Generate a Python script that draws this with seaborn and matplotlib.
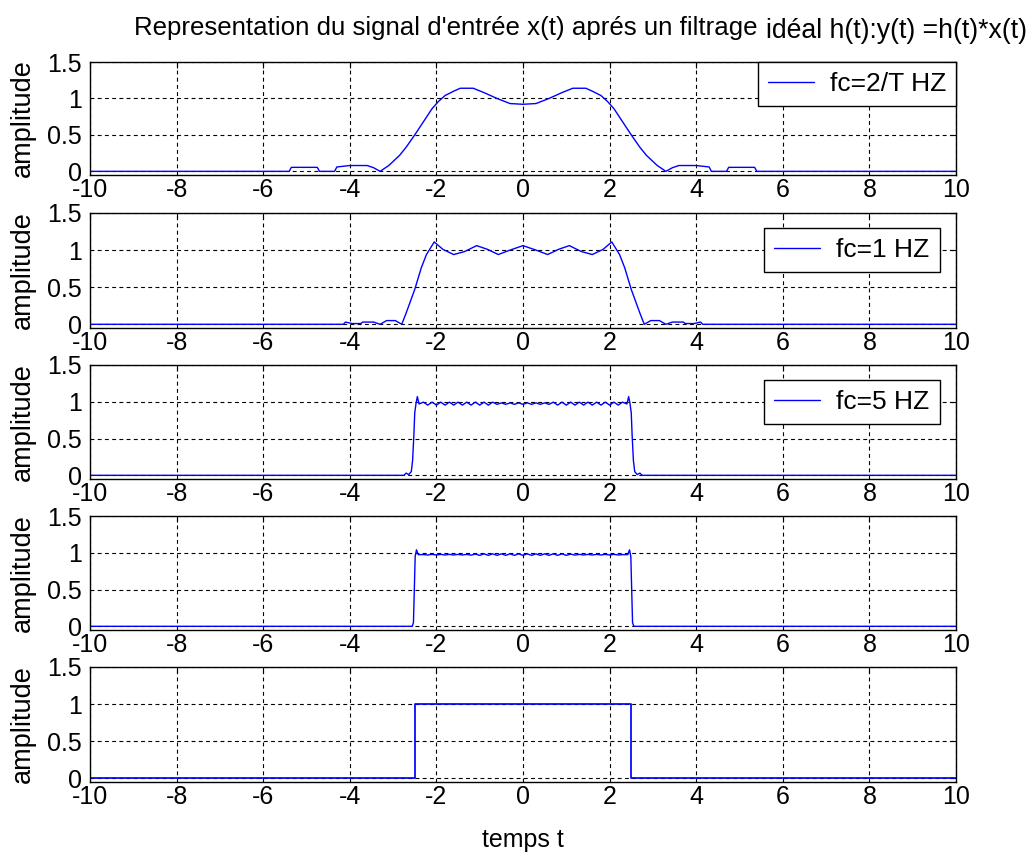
import matplotlib
matplotlib.use("Agg")
import matplotlib.pyplot as plt
import pandas as pd
import seaborn as sns

sns.set_theme(style="white")
plt.rcParams["font.family"] = ["Liberation Sans", "DejaVu Sans"]
plt.rcParams["axes.unicode_minus"] = False
plt.rcParams["text.color"] = "black"

# ---- filtered rectangular pulse, cutoff fc = 2/T ----
t_fc2T = [-10.0, -5.4, -5.35, -4.75, -4.7, -4.35, -4.3, -4.0, -3.6, -3.45, -3.3, -3.1,
          -2.85, -2.7, -2.5, -2.3, -2.1, -1.95, -1.8, -1.6, -1.45, -1.15, -0.9, -0.6,
          -0.3, 0.0, 0.3, 0.6, 0.9, 1.15, 1.45, 1.6, 1.8, 1.95, 2.1, 2.3, 2.5, 2.7,
          2.85, 3.1, 3.3, 3.45, 3.6, 4.0, 4.3, 4.35, 4.7, 4.75, 5.35, 5.4, 10.0]
y_fc2T = [0.0, 0.0, 0.055, 0.055, 0.0, 0.0, 0.06, 0.08, 0.08, 0.05, 0.0, 0.08,
          0.22, 0.33, 0.5, 0.68, 0.86, 0.96, 1.04, 1.1, 1.14, 1.14, 1.08, 1.0,
          0.93, 0.92, 0.93, 1.0, 1.08, 1.14, 1.14, 1.1, 1.04, 0.96, 0.86, 0.68, 0.5, 0.33,
          0.22, 0.08, 0.0, 0.05, 0.08, 0.08, 0.06, 0.0, 0.0, 0.055, 0.055, 0.0, 0.0]

# ---- cutoff fc = 1 Hz ----
t_fc1 = [-10.0, -4.15, -4.1, -3.95, -3.75, -3.7, -3.45, -3.3, -3.15, -2.95, -2.8, -2.7,
         -2.5, -2.35, -2.23, -2.05, -1.85, -1.6, -1.35, -1.07, -0.82, -0.57, -0.3, 0.0,
         0.3, 0.57, 0.82, 1.07, 1.35, 1.6, 1.85, 2.05, 2.23, 2.35, 2.5, 2.7, 2.8,
         2.95, 3.15, 3.3, 3.45, 3.7, 3.75, 3.95, 4.1, 4.15, 10.0]
y_fc1 = [0.0, 0.0, 0.03, 0.01, 0.01, 0.03, 0.03, 0.0, 0.05, 0.05, 0.0, 0.15,
         0.47, 0.76, 0.94, 1.11, 1.01, 0.94, 0.98, 1.06, 1.01, 0.94, 1.0, 1.06,
         1.0, 0.94, 1.01, 1.06, 0.98, 0.94, 1.01, 1.11, 0.94, 0.76, 0.47, 0.15, 0.0,
         0.05, 0.05, 0.0, 0.03, 0.03, 0.01, 0.01, 0.03, 0.0, 0.0]

# ---- cutoff fc = 5 Hz ----
t_fc5 = [-10.0, -2.75, -2.7, -2.64, -2.58, -2.55, -2.52, -2.5, -2.47, -2.44, -2.4,
         -2.3, -2.2, -2.1, -2.0, -1.9, -1.8, -1.7, -1.6, -1.5, -1.4, -1.3, -1.2,
         -1.1, -1.0, -0.9, -0.8, -0.7, -0.6, -0.5, -0.4, -0.3, -0.2, -0.1, 0.0,
         0.1, 0.2, 0.3, 0.4, 0.5, 0.6, 0.7, 0.8, 0.9, 1.0, 1.1, 1.2,
         1.3, 1.4, 1.5, 1.6, 1.7, 1.8, 1.9, 2.0, 2.1, 2.2, 2.3,
         2.4, 2.44, 2.47, 2.5, 2.52, 2.55, 2.58, 2.64, 2.7, 2.75, 10.0]
y_fc5 = [0.0, 0.0, 0.03, 0.01, 0.05, 0.2, 0.55, 0.85, 0.98, 1.07, 0.97,
         0.995, 0.955, 0.995, 0.955, 0.995, 0.955, 0.995, 0.955, 0.995, 0.955, 0.995, 0.955,
         0.995, 0.955, 0.995, 0.955, 0.995, 0.965, 0.985, 0.965, 0.985, 0.965, 0.985, 0.965,
         0.985, 0.965, 0.985, 0.965, 0.985, 0.965, 0.995, 0.955, 0.995, 0.955, 0.995, 0.955,
         0.995, 0.955, 0.995, 0.955, 0.995, 0.955, 0.995, 0.955, 0.995, 0.955, 0.995,
         0.97, 1.07, 0.98, 0.85, 0.55, 0.2, 0.05, 0.01, 0.03, 0.0, 0.0]

# ---- cutoff fc = 10 Hz ----
t_fc10 = [-10.0, -2.56, -2.53, -2.51, -2.49, -2.46, -2.42,
          -2.3, -2.2, -2.1, -2.0, -1.9, -1.8, -1.7, -1.6, -1.5, -1.4, -1.3, -1.2,
          -1.1, -1.0, -0.9, -0.8, -0.7, -0.6, -0.5, -0.4, -0.3, -0.2, -0.1, 0.0,
          0.1, 0.2, 0.3, 0.4, 0.5, 0.6, 0.7, 0.8, 0.9, 1.0, 1.1, 1.2,
          1.3, 1.4, 1.5, 1.6, 1.7, 1.8, 1.9, 2.0, 2.1, 2.2, 2.3,
          2.42, 2.46, 2.49, 2.51, 2.53, 2.56, 10.0]
y_fc10 = [0.0, 0.0, 0.05, 0.5, 0.95, 1.04, 0.975,
          0.975, 0.97, 0.978, 0.97, 0.978, 0.97, 0.978, 0.97, 0.978, 0.97, 0.978, 0.968,
          0.982, 0.965, 0.985, 0.965, 0.985, 0.965, 0.985, 0.965, 0.985, 0.965, 0.985, 0.965,
          0.985, 0.965, 0.985, 0.965, 0.985, 0.965, 0.985, 0.965, 0.985, 0.965, 0.982, 0.968,
          0.978, 0.97, 0.978, 0.97, 0.978, 0.97, 0.978, 0.97, 0.978, 0.97, 0.975,
          0.975, 1.04, 0.95, 0.5, 0.05, 0.0, 0.0]

# ---- input pulse x(t) ----
t_rect = [-10.0, -2.5, -2.5, 2.5, 2.5, 10.0]
y_rect = [0.0, 0.0, 1.0, 1.0, 0.0, 0.0]

series = [
    (t_fc2T, y_fc2T, "fc=2/T HZ"),
    (t_fc1, y_fc1, "fc=1 HZ"),
    (t_fc5, y_fc5, "fc=5 HZ"),
    (t_fc10, y_fc10, None),
    (t_rect, y_rect, None),
]

x_ticks = [-10, -8, -6, -4, -2, 0, 2, 4, 6, 8, 10]
x_tick_labels = ["-10", "-8", "-6", "-4", "-2", "0", "2", "4", "6", "8", "10"]
y_ticks = [0, 0.5, 1, 1.5]
y_tick_labels = ["0", "0.5", "1", "1.5"]

W, H = 1034, 860
fig = plt.figure(figsize=(W / 100, H / 100), dpi=100)
fig.patch.set_facecolor("white")

left_px, right_px = 90, 956
tops = [62, 213, 365, 516, 667]
bottoms = [175, 328, 479, 630, 782]
legend_anchor = [(1.0, 1.0), (0.981, 0.87), (0.981, 0.87)]

FS = 18
blue = "#0000ff"
axes = []
for i, (tt, yy, lab) in enumerate(series):
    ax = fig.add_axes([left_px / W, 1 - bottoms[i] / H,
                       (right_px - left_px) / W, (bottoms[i] - tops[i]) / H])
    df = pd.DataFrame({"t": tt, "y": yy})
    lw = 1.25 if i == 4 else 1.0
    sns.lineplot(data=df, x="t", y="y", ax=ax, color=blue, linewidth=lw,
                 estimator=None, sort=False, label=lab, legend=lab is not None)
    ax.set_xlim(-10, 10)
    ax.set_ylim(-0.05, 1.5)
    ax.set_xticks(x_ticks)
    ax.set_xticklabels(x_tick_labels)
    ax.set_yticks(y_ticks)
    ax.set_yticklabels(y_tick_labels)
    ax.set_axisbelow(True)
    ax.grid(True, color="black", linestyle=(0, (3.5, 3.0)), linewidth=0.8)
    for sp in ax.spines.values():
        sp.set_color("black")
        sp.set_linewidth(1.0)
        sp.set_visible(True)
    ax.tick_params(direction="in", length=4, width=0.8, top=True, right=True,
                   labelsize=FS, colors="black")
    ax.tick_params(axis="x", pad=2)
    ax.tick_params(axis="y", pad=6)
    ax.set_xlabel("")
    ax.set_ylabel("amplitude", fontsize=19.5, color="black")
    ax.yaxis.set_label_coords(-0.062, 0.5)
    if lab is not None:
        leg = ax.legend(loc="upper right", bbox_to_anchor=legend_anchor[i],
                        bbox_transform=ax.transAxes, borderaxespad=0.0,
                        prop={"size": 19}, frameon=True, fancybox=False, framealpha=1,
                        edgecolor="black", handlelength=1.75, handletextpad=0.6,
                        borderpad=0.38, labelcolor="black")
        leg.get_frame().set_linewidth(1.0)
    axes.append(ax)

axes[-1].set_xlabel("temps t", fontsize=FS, color="black", labelpad=14)

fig.text(757 / W, 1 - 35 / H,
         "Representation du signal d'entrée x(t) aprés un filtrage",
         ha="right", va="baseline", fontsize=18.6, color="black")
fig.text(766 / W, 1 - 38 / H, "idéal h(t):y(t) =h(t)*x(t)",
         ha="left", va="baseline", fontsize=19.2, color="black")

fig.savefig("out.png", dpi=100, facecolor="white")
